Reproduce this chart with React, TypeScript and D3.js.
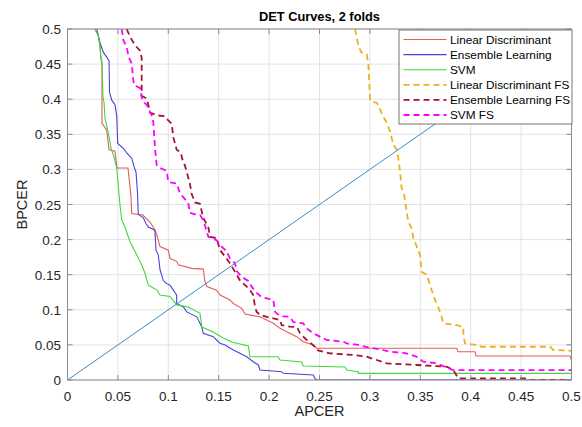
import React from "react";
import * as d3 from "d3";

const title = "DET Curves, 2 folds";
const xLabel = "APCER";
const yLabel = "BPCER";
const xTicks = [0, 0.05, 0.1, 0.15, 0.2, 0.25, 0.3, 0.35, 0.4, 0.45, 0.5];
const yTicks = [0, 0.05, 0.1, 0.15, 0.2, 0.25, 0.3, 0.35, 0.4, 0.45, 0.5];

const seriesNames = [
  "Linear Discriminant",
  "Ensemble Learning",
  "SVM",
  "Linear Discriminant FS",
  "Ensemble Learning FS",
  "SVM FS",
];

const linearDiscriminant: [number, number][] = [
  [0.0273, 0.5], [0.0306, 0.49], [0.0322, 0.475], [0.033, 0.46], [0.0342, 0.45], [0.0342, 0.365],
  [0.0355, 0.363], [0.0389, 0.356], [0.0412, 0.328], [0.0471, 0.326], [0.0491, 0.302], [0.06, 0.302],
  [0.063, 0.261], [0.0637, 0.237], [0.0747, 0.235], [0.0818, 0.225], [0.0868, 0.214], [0.0885, 0.207],
  [0.0918, 0.19], [0.1, 0.185], [0.1017, 0.173], [0.1083, 0.169], [0.1099, 0.164], [0.1232, 0.159],
  [0.1347, 0.158], [0.1364, 0.14], [0.1381, 0.133], [0.148, 0.128], [0.1513, 0.121], [0.1612, 0.114],
  [0.1645, 0.109], [0.1728, 0.102], [0.1761, 0.094], [0.191, 0.09], [0.1976, 0.0855], [0.2042, 0.0808],
  [0.2108, 0.0736], [0.2175, 0.0688], [0.2274, 0.0617], [0.2339, 0.0546], [0.2438, 0.0499],
  [0.2472, 0.0452], [0.3861, 0.0452], [0.3874, 0.0403], [0.4043, 0.0403], [0.4053, 0.0342],
  [0.4985, 0.0342], [0.5, 0.0285],
];

const ensembleLearning: [number, number][] = [
  [0.029, 0.5], [0.0322, 0.481], [0.0355, 0.467], [0.0389, 0.46], [0.0412, 0.455], [0.0417, 0.41],
  [0.0438, 0.399], [0.0471, 0.392], [0.0488, 0.377], [0.0498, 0.337], [0.0554, 0.33], [0.059, 0.323],
  [0.0637, 0.316], [0.066, 0.304], [0.068, 0.296], [0.0694, 0.268], [0.0702, 0.236], [0.0752, 0.231],
  [0.0779, 0.223], [0.0802, 0.218], [0.0858, 0.214], [0.0868, 0.211], [0.0878, 0.185], [0.0901, 0.178],
  [0.0918, 0.157], [0.095, 0.142], [0.0977, 0.138], [0.1017, 0.135], [0.105, 0.128], [0.1083, 0.121],
  [0.1083, 0.109], [0.1149, 0.104], [0.1183, 0.097], [0.1282, 0.09], [0.1331, 0.076], [0.1347, 0.0665],
  [0.1446, 0.0617], [0.148, 0.057], [0.1513, 0.0523], [0.1563, 0.0499], [0.1645, 0.0427],
  [0.1711, 0.038], [0.1778, 0.0332], [0.1843, 0.026], [0.1893, 0.0214], [0.191, 0.0142],
  [0.2125, 0.0118], [0.2141, 0.0095], [0.2438, 0.0071], [0.2455, 0.0024], [0.2472, 0], [0.5, 0],
];

const svm: [number, number][] = [
  [0.0273, 0.5], [0.0306, 0.491], [0.0322, 0.477], [0.033, 0.463], [0.0342, 0.453], [0.0352, 0.403],
  [0.0362, 0.396], [0.0372, 0.373], [0.0405, 0.352], [0.0432, 0.33], [0.0461, 0.318], [0.0488, 0.302],
  [0.0521, 0.249], [0.0538, 0.228], [0.057, 0.218], [0.062, 0.197], [0.067, 0.183], [0.0736, 0.164],
  [0.0769, 0.152], [0.0802, 0.135], [0.0851, 0.131], [0.0888, 0.128], [0.0918, 0.121], [0.1017, 0.119],
  [0.1083, 0.107], [0.1198, 0.104], [0.1314, 0.095], [0.1334, 0.0755], [0.1443, 0.0684],
  [0.1546, 0.0598], [0.1629, 0.0541], [0.1794, 0.0484], [0.181, 0.0332], [0.2091, 0.0332],
  [0.2108, 0.0285], [0.2323, 0.0256], [0.2339, 0.0199], [0.2753, 0.0185], [0.277, 0.0142],
  [0.2885, 0.0118], [0.2885, 0.0095], [0.5, 0.0095],
];

const linearDiscriminantFS: [number, number][] = [
  [0.2852, 0.5], [0.2885, 0.477], [0.2912, 0.467], [0.2968, 0.464], [0.2984, 0.451], [0.3001, 0.4],
  [0.3018, 0.396], [0.307, 0.395], [0.3133, 0.375], [0.317, 0.366], [0.3199, 0.354], [0.3232, 0.336],
  [0.3266, 0.328], [0.3282, 0.316], [0.3299, 0.297], [0.3315, 0.273], [0.3338, 0.265], [0.3365, 0.24],
  [0.3381, 0.225], [0.3415, 0.216], [0.3431, 0.202], [0.348, 0.185], [0.3497, 0.178], [0.3514, 0.154],
  [0.3564, 0.15], [0.3606, 0.131], [0.3646, 0.114], [0.3679, 0.104], [0.3712, 0.0897], [0.3728, 0.0808],
  [0.3861, 0.0783], [0.3927, 0.0755], [0.3927, 0.0641], [0.3943, 0.0523], [0.406, 0.0499],
  [0.4109, 0.0474], [0.4787, 0.0474], [0.482, 0.0427], [0.5, 0.0417],
];

const ensembleLearningFS: [number, number][] = [
  [0.0587, 0.5], [0.062, 0.489], [0.067, 0.477], [0.0719, 0.469], [0.0736, 0.459], [0.0736, 0.405],
  [0.0786, 0.401], [0.0802, 0.392], [0.0818, 0.381], [0.0885, 0.377], [0.0957, 0.376], [0.0984, 0.372],
  [0.1034, 0.365], [0.105, 0.346], [0.1083, 0.328], [0.1126, 0.324], [0.1136, 0.316], [0.1166, 0.305],
  [0.1186, 0.295], [0.1215, 0.279], [0.1232, 0.265], [0.1265, 0.253], [0.1314, 0.251], [0.1347, 0.231],
  [0.1397, 0.218], [0.1414, 0.204], [0.148, 0.202], [0.1513, 0.185], [0.1563, 0.176], [0.1612, 0.166],
  [0.1662, 0.154], [0.1711, 0.142], [0.1778, 0.133], [0.1811, 0.128], [0.1843, 0.121], [0.186, 0.104],
  [0.1877, 0.097], [0.191, 0.093], [0.1976, 0.09], [0.2108, 0.0855], [0.2125, 0.078], [0.2207, 0.076],
  [0.2277, 0.0755], [0.2307, 0.0665], [0.2373, 0.057], [0.2406, 0.0534], [0.2455, 0.0474],
  [0.2472, 0.0427], [0.2604, 0.038], [0.2835, 0.0356], [0.2968, 0.0332], [0.3067, 0.0285],
  [0.3167, 0.0238], [0.3464, 0.0214], [0.3762, 0.0189], [0.3827, 0.0142], [0.3877, 0.0024],
  [0.4556, 0.0024], [0.4588, 0], [0.5, 0],
];

const svmFS: [number, number][] = [
  [0.0538, 0.5], [0.0554, 0.484], [0.0587, 0.474], [0.061, 0.459], [0.0637, 0.451], [0.0653, 0.427],
  [0.066, 0.42], [0.0719, 0.416], [0.0736, 0.403], [0.0752, 0.396], [0.0786, 0.392], [0.0802, 0.387],
  [0.0818, 0.382], [0.0835, 0.377], [0.0851, 0.368], [0.0868, 0.33], [0.0885, 0.306], [0.0918, 0.302],
  [0.0984, 0.298], [0.1, 0.282], [0.1083, 0.28], [0.1116, 0.266], [0.1198, 0.252], [0.1215, 0.238],
  [0.1265, 0.236], [0.1314, 0.235], [0.1347, 0.228], [0.1397, 0.204], [0.148, 0.199], [0.153, 0.19],
  [0.158, 0.183], [0.1612, 0.173], [0.1662, 0.166], [0.1679, 0.155], [0.1728, 0.147], [0.1794, 0.141],
  [0.1827, 0.133], [0.1877, 0.124], [0.1927, 0.118], [0.1989, 0.116], [0.2042, 0.114], [0.2059, 0.097],
  [0.2108, 0.091], [0.2207, 0.09], [0.224, 0.0826], [0.2339, 0.0808], [0.2373, 0.0736],
  [0.2438, 0.0665], [0.2571, 0.057], [0.2736, 0.0546], [0.277, 0.0523], [0.2885, 0.0499],
  [0.2968, 0.047], [0.3133, 0.0427], [0.3199, 0.0403], [0.3365, 0.038], [0.3464, 0.0332],
  [0.353, 0.026], [0.3663, 0.0238], [0.3778, 0.0167], [0.3827, 0.0142], [0.5, 0.0142],
];

const diagonal: [number, number][] = [
  [0, 0],
  [0.5, 0.5],
];

const seriesData = [
  linearDiscriminant,
  ensembleLearning,
  svm,
  linearDiscriminantFS,
  ensembleLearningFS,
  svmFS,
];
const seriesColors = ["#e65a5a", "#4444d8", "#3fd83f", "#EDB120", "#A2142F", "#ff00ff"];
const seriesDashed = [false, false, false, true, true, true];

const W = 582;
const H = 427;
const PL = 67.5;
const PR = 571.5;
const PT = 29;
const PB = 380;
const FONT = "'Liberation Sans', Arial, Helvetica, sans-serif";

export default function App() {
  const x = d3.scaleLinear().domain([0, 0.5]).range([PL, PR]);
  const y = d3.scaleLinear().domain([0, 0.5]).range([PB, PT]);
  const line = d3
    .line<[number, number]>()
    .x((d) => x(d[0]))
    .y((d) => y(d[1]));
  const fmt = (v: number) => d3.format("~g")(+v.toFixed(2));

  const legX = 399;
  const legY = 30;
  const legW = 173;
  const legH = 94;
  const rowH = 15.1;

  return (
    <svg
      width={W}
      height={H}
      style={{ position: "absolute", left: 0, top: 0, background: "#fff" }}
      fontFamily={FONT}
    >
      <rect x={0} y={0} width={W} height={H} fill="#fff" />
      <defs>
        <clipPath id="plotClip">
          <rect x={PL} y={PT} width={PR - PL} height={PB - PT} />
        </clipPath>
      </defs>
      {xTicks.map((t) => (
        <line key={"gx" + t} x1={x(t)} x2={x(t)} y1={PT} y2={PB} stroke="#e3e3e3" strokeWidth={1} />
      ))}
      {yTicks.map((t) => (
        <line key={"gy" + t} x1={PL} x2={PR} y1={y(t)} y2={y(t)} stroke="#e3e3e3" strokeWidth={1} />
      ))}
      <g clipPath="url(#plotClip)">
        {seriesData.map((d, i) => (
          <path
            key={"s" + i}
            d={line(d) || ""}
            fill="none"
            stroke={seriesColors[i]}
            strokeWidth={seriesDashed[i] ? 1.8 : 1.1}
            strokeDasharray={seriesDashed[i] ? "6,4" : undefined}
          />
        ))}
        <path d={line(diagonal) || ""} fill="none" stroke="#3a8cc4" strokeWidth={1} />
      </g>
      <rect x={PL} y={PT} width={PR - PL} height={PB - PT} fill="none" stroke="#8a8a8a" strokeWidth={1} />
      {xTicks.map((t) => (
        <g key={"tx" + t}>
          <line x1={x(t)} x2={x(t)} y1={PB} y2={PB - 5} stroke="#8a8a8a" />
          <line x1={x(t)} x2={x(t)} y1={PT} y2={PT + 5} stroke="#8a8a8a" />
          <text x={x(t)} y={401} textAnchor="middle" fontSize={13.5} fill="#262626">
            {fmt(t)}
          </text>
        </g>
      ))}
      {yTicks.map((t) => (
        <g key={"ty" + t}>
          <line x1={PL} x2={PL + 5} y1={y(t)} y2={y(t)} stroke="#8a8a8a" />
          <line x1={PR} x2={PR - 5} y1={y(t)} y2={y(t)} stroke="#8a8a8a" />
          <text x={61} y={y(t) + 5} textAnchor="end" fontSize={13.5} fill="#262626">
            {fmt(t)}
          </text>
        </g>
      ))}
      <text x={(PL + PR) / 2} y={21} textAnchor="middle" fontSize={12.8} fontWeight="bold" fill="#000">
        {title}
      </text>
      <text x={(PL + PR) / 2} y={416} textAnchor="middle" fontSize={14.5} fill="#262626">
        {xLabel}
      </text>
      <text
        transform={`translate(27,${(PT + PB) / 2}) rotate(-90)`}
        textAnchor="middle"
        fontSize={14.5}
        fill="#262626"
      >
        {yLabel}
      </text>
      <rect x={legX} y={legY} width={legW} height={legH} fill="#fff" stroke="#777" strokeWidth={1} />
      {seriesNames.map((name, i) => {
        const cy = legY + 9.5 + i * rowH;
        return (
          <g key={"lg" + i}>
            <line
              x1={legX + 4.5}
              x2={legX + 47.5}
              y1={cy}
              y2={cy}
              stroke={seriesColors[i]}
              strokeWidth={seriesDashed[i] ? 1.8 : 1.1}
              strokeDasharray={seriesDashed[i] ? "6,4" : undefined}
            />
            <text x={legX + 51} y={cy + 4.2} fontSize={11.8} fill="#000">
              {name}
            </text>
          </g>
        );
      })}
    </svg>
  );
}
